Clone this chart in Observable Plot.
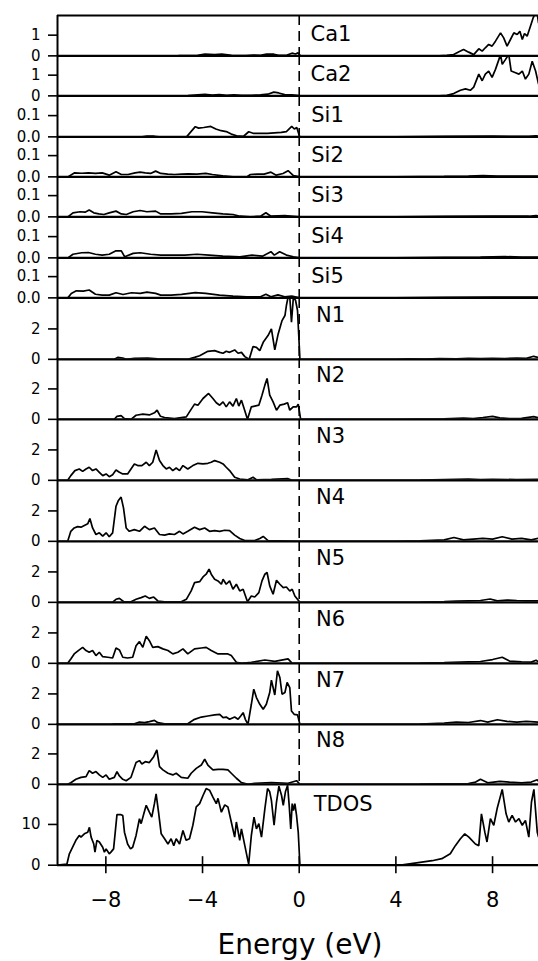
<!DOCTYPE html>
<html><head><meta charset="utf-8">
<script src="https://cdn.jsdelivr.net/npm/d3@7"></script>
<script src="https://cdn.jsdelivr.net/npm/@observablehq/plot@0.6"></script>
<style>
body{margin:0;background:#fff;}
#chart{width:538px;}
#chart svg{display:block;overflow:visible;background:transparent;}
</style></head><body><div id="chart"></div>
<script>
// ---- data: [energy (eV), density] ----
const energyDomain = [-10, 9.9];
const energyTicks = [-8, -4, 0, 4, 8];
const xLabel = "Energy (eV)";

const ca1 = [[-10,0],[-5,0.01],[-4.2,0.03],[-3.9,0.08],[-3.5,0.06],[-3.2,0.08],[-2.8,0.02],[-2.2,0.01],[-1.9,0.04],[-1.6,0.02],[-1.35,0.09],[-1.05,0.08],[-0.85,0.02],[-0.5,0.04],[-0.3,0.13],[-0.15,0.09],[-0.05,0.15],[0.05,0],[5.8,0],[6.11,0.02],[6.39,0.06],[6.67,0.23],[6.8,0.31],[7.01,0.18],[7.22,0.06],[7.43,0.34],[7.57,0.23],[7.7,0.39],[7.84,0.55],[7.98,0.47],[8.12,0.71],[8.33,1.11],[8.46,0.87],[8.6,0.47],[8.74,0.79],[8.88,1.11],[9.02,1.03],[9.13,1.19],[9.23,0.79],[9.32,1.08],[9.43,0.95],[9.57,1.44],[9.68,1.84],[9.78,2.1],[9.84,2.1],[9.9,1.6]];
const ca2 = [[-10,0],[-4.6,0.01],[-4.2,0.05],[-3.9,0.07],[-3.6,0.04],[-3.3,0.06],[-3.0,0.03],[-2.7,0.05],[-2.4,0.02],[-2.0,0.03],[-1.6,0.05],[-1.3,0.08],[-1.05,0.18],[-0.85,0.14],[-0.6,0.06],[-0.3,0.05],[-0.1,0.03],[0.05,0],[5.8,0],[6.11,0.03],[6.39,0.11],[6.67,0.27],[6.88,0.34],[7.08,0.27],[7.22,0.42],[7.43,1.05],[7.57,0.73],[7.7,1.05],[7.84,1.2],[7.98,0.89],[8.12,1.28],[8.26,1.75],[8.33,2.0],[8.4,1.52],[8.53,1.75],[8.67,2.0],[8.77,1.2],[8.95,1.12],[9.09,1.05],[9.23,1.2],[9.36,0.81],[9.5,1.05],[9.64,1.67],[9.78,1.2],[9.9,0.58]];
const si1 = [[-10,0],[-6.5,0],[-6.3,0.004],[-6.0,0.003],[-5.8,0],[-4.66,0],[-4.3,0.048],[-4.16,0.041],[-3.95,0.044],[-3.66,0.049],[-3.45,0.037],[-3.23,0.029],[-3.02,0.025],[-2.81,0.013],[-2.59,0.005],[-2.31,0.002],[-2.09,0.024],[-1.88,0.016],[-1.6,0.017],[-1.31,0.016],[-1.03,0.019],[-0.74,0.021],[-0.53,0.025],[-0.31,0.049],[-0.2,0.037],[-0.1,0.044],[0.02,0],[4,0],[6,0.002],[8,0.003],[9.5,0.002],[9.8,0.005],[9.9,0.003]];
const si2 = [[-10,0],[-9.57,0],[-9.29,0.019],[-9.0,0.017],[-8.72,0.019],[-8.43,0.016],[-8.15,0.019],[-7.86,0.008],[-7.58,0.024],[-7.36,0.011],[-7.08,0.011],[-6.79,0.019],[-6.58,0.022],[-6.37,0.019],[-6.15,0.016],[-5.94,0.027],[-5.73,0.016],[-5.44,0.013],[-5.16,0.011],[-4.87,0.013],[-4.59,0.014],[-4.23,0.013],[-3.87,0.016],[-3.59,0.011],[-3.16,0.005],[-2.74,0],[-2.17,0],[-2.02,0.011],[-1.74,0.013],[-1.45,0.013],[-1.17,0.022],[-0.95,0.008],[-0.67,0.016],[-0.46,0.029],[-0.24,0.006],[0.02,0],[4,0],[6,0.002],[7,0.004],[7.6,0.006],[8.2,0.003],[9,0.003],[9.9,0.004]];
const si3 = [[-10,0],[-9.57,0],[-9.36,0.019],[-9.07,0.024],[-8.86,0.022],[-8.69,0.032],[-8.5,0.019],[-8.29,0.014],[-8.08,0.011],[-7.86,0.019],[-7.58,0.027],[-7.36,0.014],[-7.15,0.011],[-6.87,0.024],[-6.58,0.03],[-6.3,0.024],[-5.94,0.027],[-5.73,0.014],[-5.3,0.014],[-4.87,0.016],[-4.44,0.024],[-4.02,0.024],[-3.59,0.019],[-3.16,0.014],[-2.74,0.011],[-2.45,0.003],[-2.02,0],[-1.6,0.003],[-1.38,0.019],[-1.17,0.003],[-0.6,0.006],[0.02,0],[4,0],[6,0.002],[8,0.003],[9.5,0.003],[9.8,0.006],[9.9,0.004]];
const si4 = [[-10,0],[-9.57,0],[-9.36,0.017],[-9.0,0.024],[-8.72,0.025],[-8.43,0.017],[-8.15,0.013],[-7.86,0.017],[-7.58,0.033],[-7.36,0.033],[-7.22,0.005],[-6.87,0.021],[-6.58,0.024],[-6.15,0.017],[-5.73,0.013],[-5.3,0.013],[-4.73,0.013],[-4.23,0.017],[-3.73,0.013],[-3.16,0.008],[-2.45,0.005],[-1.95,0.013],[-1.52,0.008],[-1.17,0.029],[-1.03,0.013],[-0.81,0.029],[-0.53,0.013],[-0.24,0.005],[0.02,0],[4,0],[6,0.002],[7.5,0.003],[8.5,0.006],[9.2,0.003],[9.9,0.004]];
const si5 = [[-10,0],[-9.57,0],[-9.43,0.021],[-9.22,0.033],[-8.93,0.032],[-8.69,0.037],[-8.43,0.017],[-8.15,0.013],[-7.86,0.013],[-7.58,0.024],[-7.29,0.016],[-6.94,0.024],[-6.58,0.021],[-6.3,0.027],[-5.94,0.021],[-5.73,0.013],[-5.3,0.013],[-4.87,0.016],[-4.3,0.025],[-3.87,0.021],[-3.3,0.013],[-2.74,0.008],[-2.17,0.005],[-1.6,0.005],[-1.38,0.017],[-1.17,0.005],[-0.88,0.014],[-0.6,0.005],[-0.31,0.008],[0.02,0],[4,0],[6,0.002],[8,0.003],[9.9,0.004]];
const n1 = [[-10,0],[-7.65,0],[-7.51,0.13],[-7.3,0.09],[-7.16,0],[-6.82,0.07],[-6.27,0.09],[-5.85,0.04],[-4.61,0],[-4.33,0.13],[-4.12,0.24],[-3.78,0.53],[-3.5,0.57],[-3.29,0.46],[-3.15,0.4],[-3.02,0.53],[-2.88,0.46],[-2.67,0.62],[-2.53,0.4],[-2.39,0.46],[-2.25,0.18],[-2.07,0],[-1.91,0.84],[-1.77,0.79],[-1.63,0.57],[-1.49,1.12],[-1.29,1.56],[-1.15,2.0],[-1.01,0.62],[-0.87,1.67],[-0.71,2.55],[-0.59,2.88],[-0.53,3.54],[-0.46,4.1],[-0.39,4.1],[-0.32,2.44],[-0.24,4.1],[-0.15,3.87],[-0.07,3.21],[0.03,0],[4,0],[4.5,0.03],[5.2,0.02],[5.8,0.05],[6.5,0.04],[7,0.06],[7.5,0.05],[8,0.07],[8.5,0.05],[9,0.08],[9.4,0.06],[9.7,0.2],[9.9,0.12]];
const n2 = [[-10,0],[-7.65,0],[-7.54,0.2],[-7.37,0.24],[-7.23,0.05],[-6.96,0],[-6.75,0.27],[-6.47,0.34],[-6.2,0.29],[-5.99,0.43],[-5.88,0.6],[-5.74,0.2],[-5.57,0.12],[-5.16,0.05],[-4.67,0.16],[-4.54,0.49],[-4.33,1.0],[-4.19,0.93],[-3.98,1.37],[-3.75,1.7],[-3.57,1.37],[-3.43,1.09],[-3.29,0.93],[-3.15,1.15],[-3.02,0.82],[-2.88,1.15],[-2.74,0.87],[-2.6,1.37],[-2.5,0.87],[-2.39,1.26],[-2.28,0.71],[-2.14,0],[-1.98,0.82],[-1.84,0.87],[-1.67,0.93],[-1.54,1.59],[-1.42,2.25],[-1.33,2.69],[-1.22,1.59],[-1.08,1.15],[-0.94,0.6],[-0.8,0.93],[-0.62,1.0],[-0.48,1.09],[-0.39,0.6],[-0.25,0.82],[-0.11,0.82],[-0.04,1.0],[0.06,0],[4,0],[5,0.02],[6,0.03],[6.8,0.08],[7.2,0.05],[7.6,0.12],[8,0.2],[8.3,0.1],[8.7,0.05],[9.2,0.06],[9.7,0.18],[9.9,0.1]];
const n3 = [[-10,0],[-9.58,0],[-9.45,0.31],[-9.28,0.64],[-9.1,0.75],[-8.96,0.59],[-8.82,0.75],[-8.69,0.86],[-8.55,0.64],[-8.41,0.75],[-8.27,0.53],[-8.13,0.31],[-7.99,0.42],[-7.86,0.24],[-7.72,0.37],[-7.58,0.68],[-7.44,0.53],[-7.3,0.42],[-7.1,0.42],[-6.96,0.75],[-6.82,1.08],[-6.68,0.97],[-6.51,0.97],[-6.33,1.19],[-6.2,0.97],[-6.06,1.19],[-5.92,2.0],[-5.78,1.3],[-5.64,0.97],[-5.5,0.75],[-5.37,0.86],[-5.23,0.64],[-5.09,0.81],[-4.95,0.64],[-4.81,0.97],[-4.61,0.75],[-4.4,0.97],[-4.19,1.12],[-3.98,1.08],[-3.78,1.12],[-3.64,1.19],[-3.5,1.3],[-3.29,1.19],[-3.15,1.08],[-3.02,0.86],[-2.88,0.64],[-2.67,0.2],[-2.46,0.09],[-2.12,0.04],[-1.91,0.2],[-1.77,0.04],[-1.15,0.07],[-0.46,0.11],[-0.32,0.02],[0,0],[4,0],[5,0.02],[6,0.05],[7,0.08],[7.5,0.05],[8,0.07],[9,0.05],[9.9,0.06]];
const n4 = [[-10,0],[-9.58,0],[-9.45,0.66],[-9.31,0.88],[-9.17,0.97],[-9.03,0.93],[-8.89,1.04],[-8.75,1.15],[-8.66,1.5],[-8.55,0.88],[-8.41,0.45],[-8.27,0.56],[-8.13,0.34],[-7.99,0.56],[-7.86,0.3],[-7.72,0.56],[-7.58,2.31],[-7.48,2.69],[-7.37,2.91],[-7.27,2.2],[-7.16,0.88],[-7.03,0.66],[-6.82,0.77],[-6.61,0.66],[-6.4,0.99],[-6.2,0.77],[-5.99,0.88],[-5.78,0.45],[-5.57,0.41],[-5.37,0.49],[-5.16,0.45],[-4.95,0.66],[-4.81,0.49],[-4.61,0.66],[-4.33,0.93],[-4.12,0.77],[-3.91,0.88],[-3.71,0.66],[-3.5,0.71],[-3.29,0.66],[-3.08,0.73],[-2.88,0.71],[-2.67,0.41],[-2.46,0.19],[-2.25,0.05],[-1.84,0.05],[-1.63,0.19],[-1.49,0.32],[-1.29,0.05],[0,0],[4,0],[5,0.03],[6,0.1],[6.4,0.25],[6.8,0.1],[7.2,0.15],[7.6,0.2],[8,0.15],[8.4,0.3],[8.8,0.15],[9.2,0.2],[9.6,0.1],[9.9,0.2]];
const n5 = [[-10,0],[-8.06,0],[-7.72,0.02],[-7.58,0.2],[-7.44,0.26],[-7.26,0.04],[-6.96,0.04],[-6.75,0.2],[-6.54,0.31],[-6.37,0.42],[-6.2,0.26],[-6.02,0.35],[-5.85,0.09],[-5.57,0.04],[-4.88,0.04],[-4.67,0.2],[-4.47,0.75],[-4.33,1.3],[-4.12,1.36],[-3.98,1.67],[-3.85,1.85],[-3.73,2.18],[-3.64,1.85],[-3.5,1.52],[-3.36,1.41],[-3.22,1.19],[-3.15,1.52],[-3.02,1.19],[-2.88,1.41],[-2.74,0.86],[-2.6,1.19],[-2.46,0.75],[-2.32,0.86],[-2.14,0.04],[-1.98,0.42],[-1.84,0.35],[-1.67,0.64],[-1.54,1.41],[-1.42,1.85],[-1.33,1.96],[-1.22,1.08],[-1.08,0.53],[-0.94,1.45],[-0.8,1.19],[-0.66,0.97],[-0.53,1.01],[-0.39,0.75],[-0.29,0.86],[-0.18,0.42],[0.03,0],[4,0],[5,0.02],[6,0.05],[6.5,0.08],[7,0.1],[7.5,0.12],[7.9,0.22],[8.2,0.1],[8.6,0.15],[9,0.12],[9.4,0.1],[9.9,0.1]];
const n6 = [[-10,0],[-9.58,0],[-9.45,0.29],[-9.31,0.62],[-9.14,0.84],[-8.96,1.05],[-8.82,0.84],[-8.69,0.73],[-8.55,0.84],[-8.41,0.51],[-8.27,0.73],[-8.13,0.44],[-7.92,0.4],[-7.72,0.35],[-7.58,1.01],[-7.44,0.88],[-7.3,0.4],[-7.1,0.35],[-6.89,0.4],[-6.75,1.16],[-6.61,1.43],[-6.47,1.05],[-6.33,1.78],[-6.2,1.49],[-6.06,1.05],[-5.85,1.1],[-5.64,0.95],[-5.43,0.84],[-5.23,0.62],[-5.02,0.73],[-4.81,0.95],[-4.61,0.62],[-4.33,0.95],[-4.05,1.01],[-3.85,1.05],[-3.64,0.84],[-3.36,0.62],[-2.95,0.62],[-2.81,0.51],[-2.6,0.07],[-2.39,0],[-1.98,0.07],[-1.42,0.22],[-1.01,0.13],[-0.46,0.29],[-0.29,0],[0,0],[4,0],[5,0.02],[6,0.05],[7,0.1],[7.5,0.12],[8,0.25],[8.4,0.4],[8.7,0.15],[9.2,0.1],[9.6,0.08],[9.8,0.2],[9.9,0.1]];
const n7 = [[-10,0],[-7.79,0],[-7.65,0.04],[-6.82,0.04],[-6.61,0.15],[-6.4,0.11],[-6.2,0.18],[-5.99,0.26],[-5.85,0.11],[-5.57,0.04],[-4.61,0.04],[-4.33,0.33],[-4.05,0.48],[-3.78,0.55],[-3.5,0.62],[-3.29,0.66],[-3.15,0.44],[-3.02,0.48],[-2.88,0.33],[-2.67,0.48],[-2.53,0.33],[-2.42,0.55],[-2.32,0.77],[-2.23,0.33],[-2.12,0],[-1.98,1.32],[-1.88,2.31],[-1.77,1.76],[-1.63,1.32],[-1.49,0.99],[-1.36,1.32],[-1.22,2.09],[-1.15,2.9],[-1.08,2.42],[-1.01,1.93],[-0.9,3.52],[-0.8,3.08],[-0.71,1.98],[-0.59,2.09],[-0.5,2.75],[-0.39,2.42],[-0.32,0.88],[-0.21,0.66],[-0.07,0.62],[0.03,0],[4,0],[5,0.02],[6,0.08],[6.5,0.15],[7,0.12],[7.5,0.25],[7.8,0.15],[8.2,0.3],[8.6,0.2],[9,0.15],[9.4,0.2],[9.9,0.15]];
const n8 = [[-10,0],[-9.58,0],[-9.45,0.11],[-9.24,0.33],[-9.03,0.46],[-8.82,0.51],[-8.69,0.9],[-8.55,0.73],[-8.41,0.84],[-8.27,0.62],[-8.13,0.46],[-7.99,0.62],[-7.86,0.33],[-7.65,0.46],[-7.54,0.84],[-7.44,0.55],[-7.3,0.33],[-7.16,0.24],[-6.96,0.46],[-6.75,1.43],[-6.61,1.56],[-6.51,1.34],[-6.37,1.49],[-6.2,1.43],[-6.02,1.82],[-5.89,2.26],[-5.78,1.16],[-5.64,0.95],[-5.43,0.73],[-5.23,0.62],[-5.09,0.73],[-4.88,0.46],[-4.61,0.4],[-4.47,0.73],[-4.26,1.05],[-4.05,1.27],[-3.91,1.65],[-3.78,1.27],[-3.57,0.95],[-3.36,0.99],[-3.15,0.99],[-2.95,0.95],[-2.81,0.73],[-2.6,0.4],[-2.39,0.11],[-2.12,0],[-1.84,0.07],[-1.15,0.11],[-0.46,0.07],[-0.11,0.24],[0.03,0],[4,0],[5,0.01],[6,0.03],[7,0.05],[7.3,0.15],[7.5,0.33],[7.8,0.1],[8.3,0.2],[8.7,0.15],[9.2,0.1],[9.6,0.15],[9.85,0.3],[9.9,0.2]];
const tdos = [[-10,0],[-9.61,0.3],[-9.51,2.8],[-9.38,4.4],[-9.24,6.1],[-9.1,7.3],[-9.03,6.9],[-8.89,7.7],[-8.75,8.1],[-8.68,9.3],[-8.61,6.9],[-8.5,5.2],[-8.45,3.2],[-8.37,6.1],[-8.27,5.7],[-8.13,4.4],[-8.06,3.2],[-7.99,4.0],[-7.86,2.8],[-7.79,3.2],[-7.68,4.0],[-7.54,12.4],[-7.37,12.4],[-7.3,12.2],[-7.23,8.1],[-7.1,5.2],[-6.98,4.0],[-6.89,4.4],[-6.75,7.3],[-6.61,11.4],[-6.54,10.2],[-6.43,12.6],[-6.33,14.7],[-6.2,13.0],[-6.1,11.8],[-5.99,15.1],[-5.92,17.5],[-5.82,13.0],[-5.71,7.7],[-5.57,6.5],[-5.43,5.2],[-5.3,6.5],[-5.19,4.8],[-5.09,6.5],[-4.95,5.2],[-4.81,8.5],[-4.68,6.1],[-4.54,6.5],[-4.4,9.8],[-4.26,14.3],[-4.12,15.1],[-3.98,17.1],[-3.85,18.8],[-3.71,18.4],[-3.57,16.7],[-3.43,15.1],[-3.36,16.4],[-3.22,13.0],[-3.08,14.8],[-2.95,14.3],[-2.81,10.6],[-2.67,6.9],[-2.6,10.6],[-2.46,6.1],[-2.39,8.9],[-2.25,4.8],[-2.14,1.6],[-2.09,0.3],[-1.98,7.3],[-1.87,11.8],[-1.77,8.9],[-1.67,10.2],[-1.56,6.9],[-1.42,13.9],[-1.31,18.8],[-1.22,18.0],[-1.15,15.9],[-1.04,9.8],[-0.94,15.5],[-0.84,19.4],[-0.73,17.1],[-0.66,14.7],[-0.57,18.0],[-0.48,19.6],[-0.41,14.3],[-0.35,8.9],[-0.29,15.1],[-0.24,13.4],[-0.18,15.1],[-0.11,12.2],[-0.04,8.1],[0.03,0],[4.2,0],[5.0,0.7],[5.5,1.1],[5.9,1.6],[6.25,2.8],[6.46,4.8],[6.67,6.5],[6.85,7.7],[7.02,6.9],[7.29,5.2],[7.43,4.8],[7.54,12.6],[7.68,8.1],[7.77,5.7],[7.91,11.4],[8.05,9.8],[8.19,13.9],[8.4,18.6],[8.56,12.6],[8.67,10.6],[8.81,12.2],[8.95,10.6],[9.09,11.4],[9.23,9.8],[9.36,11.0],[9.5,6.9],[9.61,15.5],[9.71,18.6],[9.85,8.1],[9.9,7.0]];

const panelNames = ["Ca1","Ca2","Si1","Si2","Si3","Si4","Si5","N1","N2","N3","N4","N5","N6","N7","N8","TDOS"];
const panelSeries = [ca1, ca2, si1, si2, si3, si4, si5, n1, n2, n3, n4, n5, n6, n7, n8, tdos];
const groupOf = ["Ca","Ca","Si","Si","Si","Si","Si","N","N","N","N","N","N","N","N","T"];

// axis settings per group
const yDomains = {Ca: [0, 1.95], Si: [0, 0.19], N: [0, 4], T: [0, 19.8]};
const yTicks = {Ca: [0, 1], Si: [0, 0.1], N: [0, 2], T: [0, 10]};
const yFormats = {Ca: d3.format("d"), Si: d3.format(".1f"), N: d3.format("d"), T: d3.format("d")};

// layout (pixels)
const W = 538, ML = 57, TOP = 15, BOTTOM = 96;
const panelH = {Ca: 40.36, Si: 40.36, N: 60.85, T: 80.7};
const labelDy = {Ca: 26, Si: 25.5, N: 23.8, T: 26.7};
const labelX = {Ca: 0.47, Si: 0.5, N: 0.7, T: 0.6};
const FONT = "DejaVu Sans";

const root = document.getElementById("chart");
panelNames.forEach((name, i) => {
  const g = groupOf[i];
  const first = i === 0, last = i === panelNames.length - 1;
  const h = panelH[g];
  const mt = first ? TOP : 0, mb = last ? BOTTOM : 0;
  const marks = [
    Plot.line(panelSeries[i], {x: d => d[0], y: d => d[1], stroke: "#000", strokeWidth: 1.7, strokeLinejoin: "miter", clip: true}),
    Plot.ruleY([0], {stroke: "#000", strokeWidth: 2.2}),
    Plot.ruleX([energyDomain[0]], {stroke: "#000", strokeWidth: 2}),
    Plot.axisY({ticks: yTicks[g], tickFormat: yFormats[g], tickSize: 9, tickPadding: 8, fontSize: 15, strokeWidth: 1.6, label: null}),
    Plot.text([name], {x: () => labelX[g], frameAnchor: "top", lineAnchor: "bottom", dy: labelDy[g], textAnchor: "start", fontSize: 21, fill: "#000"})
  ];
  if (!last) marks.push(Plot.ruleX([0], {stroke: "#000", strokeWidth: 1.6, strokeDasharray: "10,6"}));
  if (first) marks.push(Plot.ruleY([yDomains[g][1]], {stroke: "#000", strokeWidth: 2}));
  if (last) {
    marks.push(Plot.axisX({ticks: energyTicks, tickSize: 8.5, tickPadding: 18.5, fontSize: 21, strokeWidth: 1.6, label: null}));
    marks.push(Plot.tickX(energyTicks, {x: d => d, insetTop: h - 8.5, stroke: "#000", strokeWidth: 1.6}));
    marks.push(Plot.text([xLabel], {frameAnchor: "bottom", dx: 2, dy: 89, lineAnchor: "bottom", fontSize: 28, fill: "#000"}));
  }
  const svg = Plot.plot({
    width: W,
    height: h + mt + mb,
    marginLeft: ML, marginRight: 0, marginTop: mt, marginBottom: mb,
    style: {fontFamily: FONT, color: "#000", background: "transparent", overflow: "visible"},
    x: {domain: energyDomain, axis: last ? undefined : null},
    y: {domain: yDomains[g]},
    marks
  });
  root.appendChild(svg);
});
</script>
</body></html>
